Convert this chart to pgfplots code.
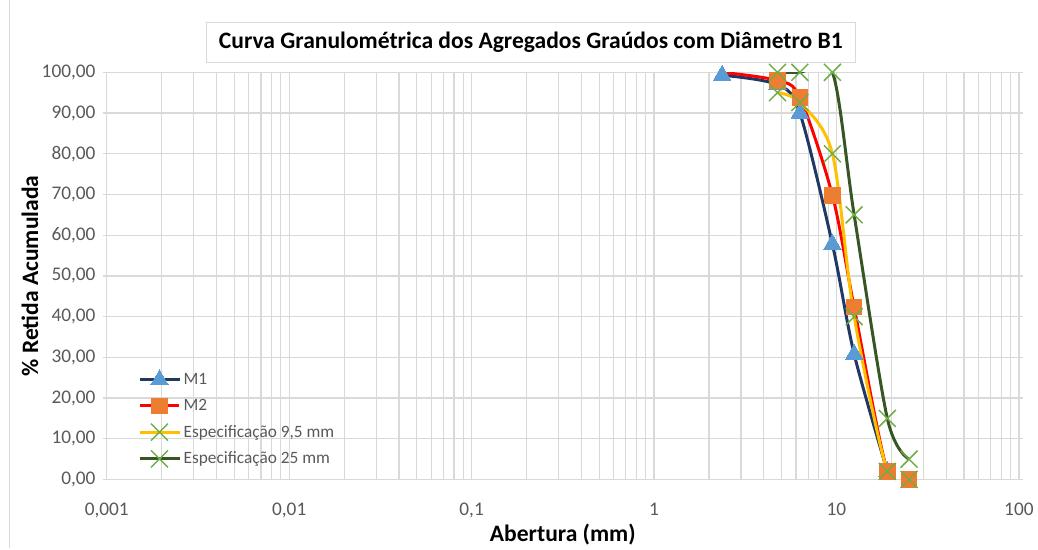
\documentclass[border=0pt]{standalone}
\usepackage{fontspec}
\setmainfont{Carlito}
\usepackage{pgfplots}
\pgfplotsset{compat=1.18}
\definecolor{gridc}{HTML}{D9D9D9}
\definecolor{txt}{HTML}{595959}
\definecolor{mone}{HTML}{203864}
\definecolor{monem}{HTML}{5B9BD5}
\definecolor{mtwo}{HTML}{FF0000}
\definecolor{mtwom}{HTML}{ED7D31}
\definecolor{specy}{HTML}{FFC000}
\definecolor{specg}{HTML}{70AD47}
\definecolor{specd}{HTML}{375623}
\begin{document}
\begin{tikzpicture}
\path (0,0) rectangle (778.5pt,411.75pt);
\draw[gridc, line width=0.75pt] (7.5pt,0) -- (7.5pt,411.75pt);
\begin{axis}[
  at={(80.25pt,51.75pt)}, anchor=south west,
  scale only axis, width=685.5pt, height=306pt,
  xmode=log, xmin=0.001, xmax=100, ymin=0, ymax=100,
  xtick={0.001,0.01,0.1,1,10,100},
  xticklabels={{0,001},{0,01},{0,1},1,10,100},
  ytick={0,10,...,100},
  yticklabel style={/pgf/number format/fixed, /pgf/number format/fixed zerofill, /pgf/number format/precision=2, /pgf/number format/use comma, xshift=-2pt},
  /pgf/number format/assume math mode=true,
  grid=both,
  major grid style={draw=gridc, line width=0.9pt},
  minor grid style={draw=gridc, line width=0.9pt},
  axis line style={draw=gridc, line width=0.9pt},
  tick align=outside,
  xtick style={draw=none},
  minor tick length=0pt,
  ytick style={draw=gridc, line width=0.9pt},
  major tick length=3pt,
  tick label style={font=\fontsize{14.5}{17}\selectfont, text=txt},
  xticklabel style={yshift=-11pt},
  xlabel={Abertura (mm)},
  ylabel={\% Retida Acumulada},
  every axis x label/.style={at={(rel axis cs:0.5,0)}, anchor=center, yshift=-41.25pt, font=\fontsize{17.7}{21}\selectfont\bfseries},
  every axis y label/.style={at={(rel axis cs:0,0.5)}, anchor=center, xshift=-57.75pt, rotate=90, font=\fontsize{17.7}{21}\selectfont\bfseries},
  legend style={at={(rel axis cs:0.034,0.27)}, anchor=north west, draw=none, fill=none,
    font=\fontsize{13}{15}\selectfont, text=txt, row sep=5.6pt, inner sep=0pt},
  legend cell align=left,
  legend image code/.code={\draw[mark repeat=2,mark phase=2] plot coordinates {(0pt,0pt) (15pt,0pt) (30pt,0pt)};},
  every axis plot/.append style={line width=2.25pt},
]
\addplot[mone, smooth, mark=triangle*, mark size=7.5pt, mark options={fill=monem, draw=monem, line width=0pt}]
  coordinates {(2.36,99.3) (4.75,97) (6.3,90) (9.5,57.8) (12.5,30.8) (19,2)};
\addlegendentry{M1}
\addlegendimage{mtwo, line width=2.25pt, mark=square*, mark size=5.8pt, mark options={fill=mtwom, draw=mtwom, line width=0pt}}
\addlegendentry{M2}
\addplot[forget plot, mtwo, smooth, mark=square*, mark size=5.8pt, mark indices={2,3,4,5,6,7}, mark options={fill=mtwom, draw=mtwom, line width=0pt}]
  coordinates {(2.36,100) (4.75,98) (6.3,93.8) (9.5,69.8) (12.5,42.3) (19,2) (25,0)};
\addplot[specy, smooth, mark=x, mark size=9pt, mark options={draw=specg, line width=1.1pt}]
  coordinates {(4.75,95) (6.3,92.6) (9.5,80) (12.5,40) (19,2) (25,0)};
\addlegendentry{Especificação 9,5 mm}
\addplot[specd, smooth, mark=x, mark size=9pt, mark options={draw=specg, line width=1.1pt}]
  coordinates {(4.75,100) (6.3,100) (9.5,100) (12.5,65) (19,15) (25,5)};
\addlegendentry{Especificação 25 mm}
\end{axis}
\node[draw=gridc, fill=white, line width=0.9pt, minimum width=487.5pt, minimum height=30pt, font=\fontsize{17.7}{21}\selectfont\bfseries] at (399pt,380.25pt) {Curva Granulométrica dos Agregados Graúdos com Diâmetro B1};
\end{tikzpicture}
\end{document}
